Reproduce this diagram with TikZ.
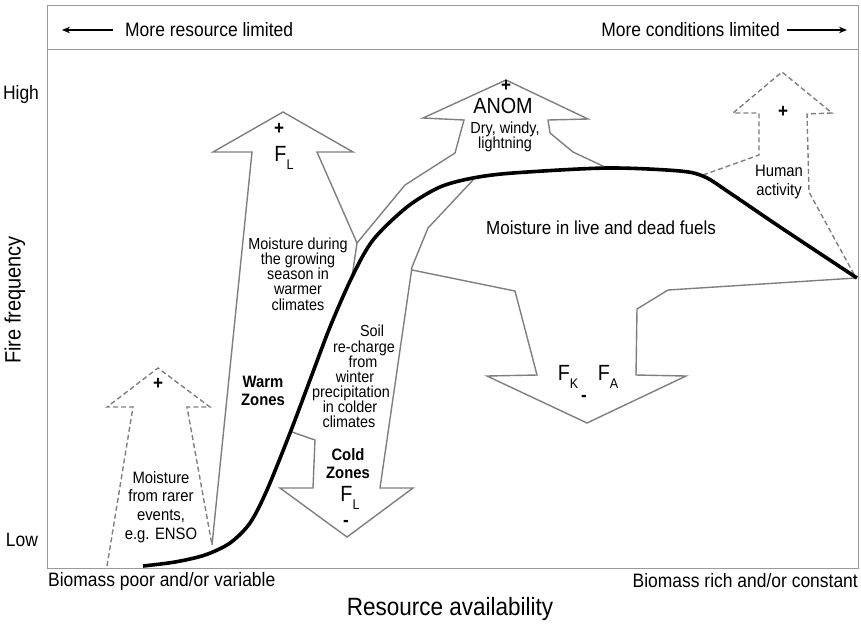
\documentclass[tikz,border=0pt]{standalone}
\usepackage{fontspec}
\setmainfont{Liberation Sans}[FakeStretch=0.9]
\usetikzlibrary{arrows.meta}
\definecolor{outg}{HTML}{7F7F7F}
\definecolor{frameg}{HTML}{9A9A9A}
\newcommand{\fsz}[2]{\fontsize{#1}{#2}\selectfont}
\newcommand{\Fsub}[1]{F\raisebox{-0.33em}{\fontsize{14}{14}\selectfont #1}}
\begin{document}
\begin{tikzpicture}[x=1pt,y=-1pt,
  every node/.style={inner sep=0pt},
  outl/.style={draw=outg, line width=1.4pt, line join=miter},
  dsh/.style={outl, dash pattern=on 5pt off 3pt},
  framel/.style={draw=frameg, line width=1pt},
  hdr/.style={font=\fsz{19.4}{20}},
  tick/.style={font=\fsz{19.4}{20}},
  lbl/.style={font=\fsz{16}{15.2}, align=center},
  sline/.style={font=\fsz{16}{15.2}, anchor=base, text height=10.5pt, text depth=3pt},
  lblw/.style={font=\fsz{16.5}{18.8}, align=center},
  bzone/.style={font=\bfseries\fsz{16.5}{18}, align=center},
  bigf/.style={font=\fsz{22}{22}},
  sgn/.style={font=\bfseries\fsz{19}{19}},
  curve/.style={draw=black, line width=3.6pt},
  harrow/.style={draw=black, line width=1.1pt, -{Stealth[length=8pt,width=6.5pt]}}]
\useasboundingbox (0,0) rectangle (861,625);

% frame
\draw[framel] (47,5) rectangle (858,568);
\draw[framel] (47,49) -- (858,49);

% header
\node[hdr, anchor=west] (hl) at (125,30) {More resource limited};
\node[hdr, anchor=east] (hr) at (780,30) {More conditions limited};
\coordinate (la1) at (113,30); \coordinate (la2) at (62,30);
\coordinate (ra1) at (787,30); \coordinate (ra2) at (847,30);
\draw[harrow] (la1) -- (la2);
\draw[harrow] (ra1) -- (ra2);

% axes labels
\node[tick] (hi) at (21,94) {High};
\node[tick] (lo) at (22,540) {Low};
\node[font=\fsz{22.2}{22}, rotate=90] (ff) at (15,300) {Fire frequency};
\node[tick, anchor=west] (bp) at (48,581) {Biomass poor and/or variable};
\node[tick, anchor=east] (br) at (858,581) {Biomass rich and/or constant};
\node[font=\fsz{25}{26}] (ra) at (450,609) {Resource availability};

% dashed arrow: moisture from rarer events
\draw[dsh] (107,566) -- (133,407) -- (107,407) -- (158,368) -- (210,407) -- (187,407) -- (212,545);
% F_L up arrow
\draw[outl] (212,545) -- (252,152) -- (213,152) -- (283,112) -- (353,152) -- (317,152) -- (357,243) -- (352,277);
% ANOM arrow
\draw[outl] (357,243) -- (405,185) -- (455,153) -- (464,120) -- (423,118) -- (506,80) -- (588,119) -- (548,120) -- (550,133) -- (573,152) -- (607,168);
% cold zones down arrow
\draw[outl] (473,180) -- (428,228) -- (412,267) -- (380,488) -- (413,488) -- (347,537) -- (280,488) -- (313,488) -- (315,440) -- (292,432);
% F_K F_A down arrow
\draw[outl] (412,270) -- (515,291) -- (537,375) -- (487,376) -- (587,423) -- (686,376) -- (636,375) -- (637,309) -- (668,290) -- (856,278);
% human activity dashed arrow
\draw[dsh] (703,175) -- (759,155) -- (759,113) -- (733,113) -- (782,72) -- (832,113) -- (807,114) -- (809,192) -- (856,278);

% main curve
\draw[curve] plot[smooth, tension=0.5] coordinates {(143,566) (175,562) (205,555) (230,543) (250,523) (267,490) (290,433) (310,380) (330,327) (352,277) (373,240) (407,207) (440,187) (473,178) (513,173) (607,168) (680,171) (705,177) (730,193) (780,227) (857,278)};

% labels
\node[sgn] (p1) at (158,384) {+};
\node[lblw] (m1) at (161,507) {Moisture\\from rarer\\events,\\e.g. ENSO};
\node[sgn] (p2) at (279,129) {+};
\node[bigf] (fl1) at (284,158) {\Fsub{L}};
\node[lbl] (m2) at (298,274) {Moisture during\\the growing\\season in\\warmer\\climates};
\node[bzone] (wz) at (263,391) {Warm\\Zones};
\node[sgn] (p3) at (506,86) {+};
\node[bigf] (an) at (503,106) {ANOM};
\node[lbl] (dw) at (505,137) {Dry, windy,\\lightning};
\node[sline] (s1) at (372,336.5) {Soil};
\node[sline] (s2) at (364,352) {re-charge};
\node[sline] (s3) at (363,367) {from};
\node[sline] (s4) at (355,382.5) {winter};
\node[sline] (s5) at (351,397.5) {precipitation};
\node[sline] (s6) at (350,412.5) {in colder};
\node[sline] (s7) at (349,427.5) {climates};
\node[bzone] (cz) at (348,464) {Cold\\Zones};
\node[bigf] (fl2) at (350,498) {\Fsub{L}};
\node[sgn] (m3) at (346,523) {-};
\node[bigf] (fk) at (568,377) {\Fsub{K}};
\node[bigf] (fa) at (608,377) {\Fsub{A}};
\node[sgn] (m4) at (584,398) {-};
\node[font=\fsz{18.9}{19}] (mf) at (601,228) {Moisture in live and dead fuels};
\node[sgn] (p4) at (783,112) {+};
\node[lblw] (ha) at (779,182) {Human\\activity};
\end{tikzpicture}
\end{document}
